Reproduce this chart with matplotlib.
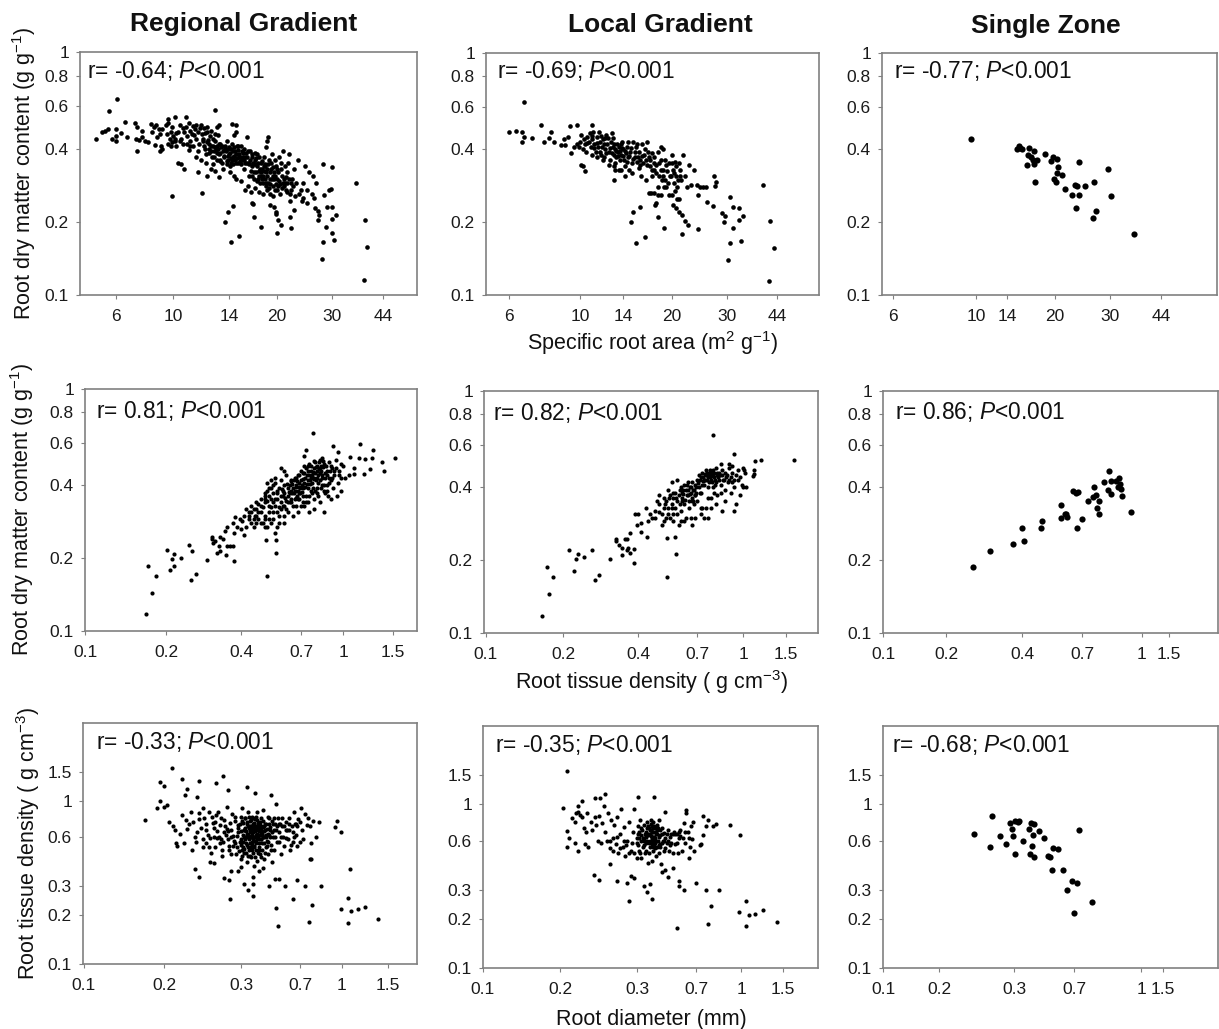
import numpy as np
import matplotlib
matplotlib.use("Agg")
import matplotlib.pyplot as plt
from matplotlib.ticker import NullLocator

plt.rcParams['font.family'] = ['Liberation Sans', 'DejaVu Sans']
plt.rcParams['mathtext.fontset'] = 'custom'
plt.rcParams['mathtext.rm'] = 'Liberation Sans'
plt.rcParams['mathtext.it'] = 'Liberation Sans:italic'
plt.rcParams['mathtext.default'] = 'regular'

# ---------- data: (x, y) ----------
srl_rdmc_regional = [
(5.03,.437),(6.05,.64),(5.65,.57),(6.5,.515),(5.3,.47),(5.45,.475),(5.6,.48),(6,.48),(6,.45),(5.8,.44),(6,.43),(6.3,.465),(6.6,.445),
(7.1,.51),(7.25,.49),(7.6,.475),(7.15,.44),(7.4,.435),(7.6,.445),(7.25,.39),(7.8,.43),(8,.425),(8.5,.415),(8.2,.505),(8.6,.5),(8.8,.48),(9.1,.48),(8.7,.445),(9,.41),(8.9,.39),(9.1,.4),(8.4,.49),(8.3,.47),(8.9,.46),
(9.55,.53),(10.1,.54),(10.8,.54),(12.9,.575),(13.2,.5),(13,.49),(14.3,.505),(14.8,.5),(14.7,.47),(14.5,.455),(16.0,.445),(18.7,.445),(18.5,.43),(18.4,.405),
(9.4,.5),(9.6,.51),(9.8,.47),(9.5,.46),(9.7,.44),(9.9,.49),(10,.45),(10.1,.43),(9.6,.42),(9.8,.41),(10.2,.41),(10.3,.47),(10.4,.5),(10.5,.44),(10.6,.42),(10.7,.47),(10.8,.49),(10.9,.45),(11,.51),(11.1,.43),(11.2,.46),(11.3,.41),(11.4,.48),(11.5,.44),(11.6,.39),(11.7,.42),(11.8,.5),(11.9,.46),(12,.44),(12.1,.4),(12.2,.38),(12.3,.47),(12.4,.42),(12.5,.45),(12.6,.39),(12.7,.41),(12.8,.37),(12.9,.43),(13,.36),(13.1,.4),(13.2,.38),(13.3,.42),(13.4,.35),(13.5,.39),(13.6,.37),(13.7,.41),(13.8,.43),(13.9,.36),(14,.38),(14.1,.34),(14.2,.4),(14.3,.42),(14.4,.37),(14.6,.39),(14.8,.35),(15,.41),(15.2,.37),(15.4,.39),(15.6,.33),(15.8,.35),(16,.37),(16.2,.31),(16.4,.39),(16.6,.34),(16.8,.32),(17,.36),(17.2,.38),(17.4,.3),(17.6,.33),(17.8,.35),(18,.31),(18.2,.37),(18.4,.29),(18.6,.33),(18.8,.36),(19,.3),(19.2,.38),(19.4,.28),(19.6,.32),(19.8,.34),(20,.3),(20.3,.37),(20.6,.33),(20.9,.39),(21.2,.29),(21.5,.32),(21.8,.38),(22.1,.27),(22.4,.3),(22.7,.33),(23,.29),(23.4,.36),(23.8,.27),(24.2,.29),(24.6,.34),(25,.27),(25.4,.32),(25.8,.26),(26,.31),(26.3,.25),(26.6,.29),
(10.3,.35),(10.5,.345),(10.7,.33),(11.6,.32),(12.3,.31),(12.6,.33),(12.9,.325),(13.2,.305),(13.5,.33),(14.1,.32),(14.5,.31),(14.8,.3),(15.3,.295),(15.8,.27),(16.1,.28),(16.5,.265),(17,.275),(17.5,.265),(18,.26),(18.6,.27),(19,.26),(19.4,.255),(20,.27),(20.5,.26),(21,.28),(21.5,.265),(22,.26),(22.8,.255),(23.5,.26),(24.3,.25),
(11,.395),(11.5,.37),(11.8,.36),(12.2,.35),(12.7,.345),(13.3,.355),(13.8,.345),(14.4,.345),(15,.35),(15.6,.36),(16.3,.35),(16.9,.345),(17.3,.34),(17.9,.33),(18.4,.32),(19.1,.33),(19.7,.31),(20.2,.32),(20.8,.31),
(12.4,.4),(12.8,.39),(13,.41),(13.3,.385),(13.6,.395),(13.9,.375),(14.2,.365),(14.5,.375),(14.9,.365),(15.1,.38),(15.5,.37),(16.6,.37),(17.1,.345),(17.5,.325),(17.7,.31),(18.1,.34),(18.3,.345),
(9.95,.256),(11.9,.262),(13.7,.2),(13.9,.22),(14.4,.232),(14.2,.166),(15.1,.175),(16.6,.238),(16.7,.237),(16.8,.21),(17.7,.19),(19,.235),(19.6,.23),(19.8,.22),(19.9,.215),(20.2,.204),(20.6,.195),(20,.18),(22.2,.188),(22.7,.224),(22,.21),(22,.243),(24.9,.24),(24,.243),(26.4,.228),(27,.222),(27.3,.213),(27,.203),(28.6,.19),(28.9,.23),(30,.23),(31,.213),(30,.205),(30,.18),(30.5,.168),(28.1,.165),(27.9,.14),(28,.345),(30,.335),(28.2,.258),(29.3,.27),(29.7,.273),(36,.288),(38.3,.204),(39,.158),(38.2,.115),
]
srl_rdmc_regional_dense = [
(10.2,.465),(10.6,.485),(11.05,.475),(11.35,.455),(11.65,.47),(11.95,.43),(12.15,.465),(12.35,.435),(12.55,.41),(12.75,.44),(12.95,.395),(13.15,.42),(13.35,.405),(13.55,.375),(13.75,.39),(13.95,.4),(14.15,.385),(14.35,.36),(14.55,.405),(14.75,.38),(14.95,.395),(15.15,.355),(15.35,.41),(15.55,.385),(15.75,.37),(16.15,.39),(16.35,.36),(16.55,.38),(16.75,.35),(16.95,.385),(17.15,.365),(17.35,.35),(17.55,.37),(17.75,.32),(17.95,.355),(18.15,.325),(18.35,.34),(18.55,.31),(18.75,.345),(18.95,.32),(19.15,.35),(19.35,.335),(19.55,.3),(19.75,.36),(19.95,.33),(20.25,.295),(20.55,.35),(20.85,.29),(21.15,.34),(21.45,.305),(21.75,.35),(12.05,.41),(12.25,.425),(12.45,.385),(12.65,.37),(12.85,.405),(13.05,.385),(13.25,.36),(13.45,.41),(13.65,.4),(13.85,.355),(14.05,.405),(14.25,.35),(14.45,.39),(14.65,.36),(14.85,.41),(15.05,.37),(15.25,.345),(15.45,.36),(15.65,.4),(15.85,.385),(16.05,.35),(16.25,.345),(16.45,.325),(16.65,.31),(16.85,.3),(17.05,.32),(17.25,.295),(17.45,.31),(17.65,.29),(17.85,.3),(18.05,.29),(18.25,.3),(18.45,.28),(18.65,.29),(18.85,.275),(19.05,.285),(19.25,.3),(19.45,.31),(19.65,.27),(19.85,.285),(20.1,.28),(20.4,.285),(20.7,.275),(21,.3),(21.3,.27),(21.6,.29),(21.9,.3),(22.2,.29),(22.5,.28),(11.1,.41),(10.9,.42),(10.4,.43),(10.15,.44),(9.9,.425),(11.25,.495),(11.45,.5),(11.75,.485),(12.05,.485),(12.3,.49),(12.6,.475),(12.85,.46),(13.1,.455),
]
srl_rdmc_local = [
(6.66,.63),(6,.47),(6.3,.475),(6.6,.47),(6.7,.45),(6.6,.43),(7.1,.445),(7.55,.505),(7.7,.43),(8,.445),(8.1,.47),(8.3,.43),(8.7,.415),(8.9,.44),(9,.415),(9.2,.45),(9.3,.5),(9.8,.505),(9.4,.385),(9.6,.41),(11,.505),
(9.8,.42),(9.9,.41),(10,.43),(10.1,.46),(10.2,.4),(10.3,.44),(10.4,.42),(10.5,.39),(10.6,.45),(10.7,.43),(10.8,.465),(10.9,.41),(11,.44),(11.1,.47),(11.2,.42),(11.3,.39),(11.4,.45),(11.5,.41),(11.6,.47),(11.7,.43),(11.8,.38),(11.9,.41),(12,.44),(12.1,.37),(12.2,.4),(12.3,.46),(12.4,.42),(12.5,.39),(12.6,.36),(12.7,.43),(12.8,.465),(12.9,.41),(13,.38),(13.1,.4),(13.2,.35),(13.3,.37),(13.4,.42),(13.5,.39),(13.6,.41),(13.7,.36),(13.8,.38),(13.9,.43),(14,.4),(14.1,.36),(14.2,.34),(14.3,.385),(14.4,.41),(14.5,.37),(14.7,.39),(14.9,.35),(15.1,.43),(15.3,.37),(15.5,.42),(15.7,.39),(15.9,.36),(16.1,.42),(16.3,.38),(16.5,.36),(16.7,.43),(16.9,.37),(17.1,.34),(17.3,.385),(17.5,.35),(17.8,.32),(18,.39),(18.2,.35),(18.4,.41),(18.5,.33),(18.7,.4),(18.8,.31),(19,.3),(19.2,.345),(19.4,.29),(19.6,.35),(19.8,.31),(20,.38),(20.1,.33),(20.3,.29),(20.4,.355),(20.6,.31),(20.8,.28),(21,.35),(21.2,.33),(21.4,.3),(21.7,.38),(22,.31),(22.3,.28),(22.7,.345),(23,.285),(23.5,.33),(24,.285),(24.6,.28),(25.2,.28),(25.7,.28),(18.1,.28),(19.1,.28),(20,.26),(20.4,.27),(20.7,.25),(21.1,.25),(19.5,.26),(18.6,.3),(18.9,.28),(17.3,.31),(17.6,.33),(16.6,.3),(16,.31),(15,.32),(15.7,.335),(14.6,.33),(14.2,.31),(13.8,.33),(13.2,.33),(13.6,.33),(13,.34),(12.5,.345),(12,.36),(11.4,.37),(11,.38),
(10.1,.345),(10.2,.34),(10.4,.325),(13,.3),(14.8,.2),(15.1,.22),(15.8,.23),(15.4,.164),(16.4,.173),(16.9,.265),(17.2,.265),(17.6,.265),(18.1,.26),(18.5,.26),(17.8,.24),(17.7,.235),(18,.21),(18.9,.19),(20.2,.235),(20.6,.228),(21.1,.22),(21.5,.215),(22,.203),(22.5,.195),(21.6,.178),(24.2,.187),(25.8,.243),(27,.234),(24.2,.26),(27.3,.31),(27.6,.293),(27.4,.283),(29,.218),(29.6,.213),(29.3,.2),(30.7,.255),(31.5,.23),(33,.228),(34,.213),(32.9,.205),(31.5,.189),(33.5,.167),(30.6,.164),(30.3,.139),(39.5,.286),(41.8,.202),(43,.157),(41.5,.114),
]
srl_rdmc_local_dense = [
(10.55,.425),(10.95,.455),(11.15,.405),(11.45,.425),(11.75,.455),(12.05,.42),(12.25,.385),(12.45,.445),(12.65,.405),(12.85,.385),(13.05,.42),(13.25,.395),(13.45,.375),(13.65,.395),(13.85,.405),(14.05,.375),(14.25,.395),(14.45,.355),(14.65,.375),(14.85,.405),(15.05,.365),(15.25,.39),(15.45,.355),(15.65,.37),(15.85,.345),(16.05,.375),(16.25,.35),(16.45,.4),(16.65,.345),(16.85,.39),(17.05,.36),(17.25,.33),(17.55,.37),(17.85,.345),(18.15,.31),(18.45,.36),(18.75,.33),(19.05,.36),(19.35,.325),(19.65,.31),(19.95,.35),(20.25,.32),(20.55,.34),(20.85,.3),(21.15,.31),(11.65,.39),(12.15,.445),(12.95,.445),(13.75,.42),(14.55,.43),(15.35,.41),
]
srl_rdmc_zone = [
(9.7,.443),(15.05,.4),(15.3,.414),(15.6,.4),(15.4,.405),(16.5,.405),(17.1,.395),(16.35,.38),(16.7,.37),(17,.36),(17.5,.36),(16.3,.345),(17.1,.348),(17.3,.294),(18.6,.382),(19.4,.357),(19.7,.372),(20.3,.364),(20.5,.337),(20.3,.32),(21,.314),(19.8,.302),(20.1,.294),(23.8,.354),(21.6,.274),(23.2,.286),(23.6,.283),(25,.281),(26.6,.293),(29.5,.333),(30.2,.256),(22.7,.26),(23.9,.258),(23.4,.228),(27,.222),(26.4,.208),(36,.178),
]
rtd_rdmc_regional = [
(.168,.117),(.172,.185),(.183,.169),(.177,.144),(.202,.217),(.211,.198),(.216,.208),(.208,.178),(.215,.185),(.229,.2),(.248,.226),(.254,.215),(.252,.163),(.263,.172),(.293,.197),(.305,.244),(.31,.232),(.32,.21),(.33,.214),(.348,.207),(.375,.194),(.373,.225),(.51,.169),(.556,.21),(.548,.255),(.556,.238),(.505,.237),
(.776,.658),(.92,.584),(1.15,.59),(1.28,.56),(1.53,.52),(1.37,.498),(1.4,.46),(1.24,.465),(1.19,.445),(1.2,.515),(1.27,.52),(1.14,.52),(1.06,.525),(1.09,.47),(1.05,.44),(1.09,.445),(.955,.55),(.73,.56),(.72,.53),
(.305,.24),(.315,.235),(.33,.245),(.34,.24),(.325,.225),(.35,.225),(.36,.225),(.345,.26),(.35,.27),(.37,.28),(.375,.255),(.385,.27),(.4,.265),(.405,.285),(.38,.295),(.41,.25),(.42,.27),(.43,.29),(.44,.31),(.45,.27),(.455,.3),(.46,.32),(.47,.29),(.48,.33),(.49,.28),(.5,.3),(.5,.34),(.51,.27),(.52,.31),(.53,.35),(.54,.29),(.55,.33),(.56,.37),(.57,.3),(.58,.34),(.59,.38),(.6,.28),(.61,.32),(.62,.36),(.63,.4),(.64,.34),(.65,.3),(.66,.38),(.67,.43),(.68,.35),(.69,.41),(.7,.33),(.71,.39),(.72,.45),(.73,.36),(.74,.42),(.75,.49),(.76,.38),(.77,.44),(.78,.47),(.79,.5),(.8,.37),(.81,.41),(.82,.45),(.83,.48),(.84,.52),(.85,.4),(.86,.43),(.87,.46),(.88,.36),(.89,.5),(.9,.42),(.91,.47),(.92,.39),(.93,.44),(.94,.51),(.96,.41),(.97,.46),(.98,.38),(1,.48),(1.02,.43),
(.5,.35),(.51,.38),(.52,.36),(.53,.39),(.54,.37),(.55,.41),(.56,.35),(.57,.39),(.58,.42),(.59,.36),(.6,.4),(.61,.44),(.62,.34),(.63,.37),(.64,.42),(.65,.39),(.66,.35),(.67,.4),(.68,.38),(.69,.44),(.7,.42),(.71,.36),(.72,.41),(.73,.47),(.74,.39),(.75,.44),(.76,.46),(.77,.41),(.78,.43),(.79,.45),(.8,.48),(.81,.44),(.82,.42),(.83,.46),(.84,.44),(.85,.49),(.72,.48),(.7,.46),(.68,.44),(.66,.43),(.64,.38),(.62,.39),(.6,.37),(.58,.36),(.56,.38),(.54,.34),(.52,.33),(.5,.37),(.48,.35),(.46,.34),(.44,.33),(.47,.31),(.45,.29),(.43,.3),(.42,.32),(.55,.43),(.53,.42),(.51,.41),(.6,.46),(.58,.47),(.72,.33),(.75,.31),(.78,.32),(.82,.34),(.86,.37),(.74,.34),(.9,.35),(.95,.36),(.98,.43),(.8,.39),(.87,.4),(.78,.35),(.85,.31),(.65,.33),(.68,.31),(.62,.31),(.6,.3),(.57,.28),(.56,.27),(.53,.28),(.5,.29),
]
rtd_rdmc_regional_dense = [
(.585,.385),(.605,.355),(.615,.405),(.625,.375),(.635,.35),(.645,.405),(.655,.37),(.665,.355),(.675,.415),(.685,.395),(.695,.37),(.705,.4),(.715,.45),(.725,.43),(.735,.405),(.745,.46),(.755,.42),(.765,.48),(.775,.455),(.785,.425),(.795,.475),(.805,.43),(.815,.5),(.825,.47),(.835,.43),(.845,.475),(.855,.45),(.635,.415),(.645,.37),(.655,.42),(.665,.395),(.675,.36),(.685,.37),(.695,.39),(.705,.375),(.715,.425),(.725,.395),(.735,.44),(.745,.48),(.755,.405),(.765,.43),(.775,.39),(.785,.505),(.795,.42),(.805,.46),(.815,.465),(.825,.51),(.835,.4),(.845,.505),(.865,.48),(.875,.44),(.885,.43),(.895,.46),(.905,.48),(.925,.46),(.945,.47),(.965,.44),(.985,.49),(.61,.345),(.59,.33),(.57,.325),(.55,.35),(.53,.325),(.51,.345),(.49,.325),(.47,.335),(.45,.32),(.43,.31),(.41,.3),(.395,.29),(.54,.4),(.52,.39),(.5,.36),(.48,.31),(.46,.3),(.44,.28),(.63,.34),(.6,.33),(.58,.32),(.56,.31),(.54,.31),(.52,.29),(.5,.27),(.48,.28),(.46,.28),(.67,.33),(.69,.35),(.71,.34),(.73,.34),(.75,.36),(.77,.37),(.79,.38),(.81,.36),(.83,.39),(.85,.38),(.87,.38),(.89,.41),(.91,.43),
]
rtd_rdmc_local = [
(.165,.117),(.173,.187),(.183,.17),(.176,.145),(.211,.22),(.222,.18),(.225,.203),(.23,.213),(.243,.207),(.262,.22),(.268,.165),(.28,.173),(.308,.203),(.325,.24),(.327,.245),(.335,.23),(.345,.225),(.345,.21),(.355,.245),(.36,.245),(.36,.22),(.365,.225),(.37,.215),(.385,.194),(.385,.222),(.37,.26),(.39,.31),(.4,.31),(.395,.28),(.41,.285),(.41,.262),(.435,.25),
(.525,.171),(.575,.212),(.57,.25),(.525,.246),(.79,.655),(.935,.55),(1.01,.47),(1.11,.47),(1.11,.455),(1.1,.445),(1.12,.515),(1.18,.52),(1.61,.52),(.92,.49),(.84,.5),
(.43,.33),(.44,.29),(.45,.31),(.455,.3),(.47,.3),(.47,.32),(.48,.35),(.49,.34),(.49,.315),(.5,.28),(.51,.33),(.51,.36),(.52,.3),(.52,.35),(.53,.39),(.53,.33),(.54,.37),(.54,.3),(.55,.34),(.55,.42),(.56,.36),(.56,.31),(.57,.38),(.57,.33),(.58,.35),(.58,.43),(.59,.37),(.59,.28),(.6,.4),(.6,.32),(.61,.36),(.61,.38),(.62,.34),(.62,.41),(.63,.39),(.63,.3),(.64,.37),(.64,.42),(.65,.35),(.65,.33),(.66,.4),(.66,.38),(.67,.36),(.67,.42),(.68,.34),(.68,.39),(.69,.37),(.69,.41),(.7,.43),(.7,.35),(.71,.45),(.71,.4),(.72,.38),(.72,.44),(.73,.46),(.73,.33),(.74,.43),(.74,.41),(.75,.45),(.75,.47),(.76,.44),(.76,.36),(.77,.46),(.77,.42),(.78,.43),(.78,.45),(.79,.47),(.79,.4),(.8,.44),(.8,.46),(.81,.42),(.81,.48),(.82,.45),(.82,.37),(.83,.43),(.83,.46),(.84,.41),(.85,.45),(.85,.47),(.86,.43),(.87,.39),(.87,.46),(.88,.45),(.89,.42),(.9,.48),(.91,.44),(.92,.42),(.93,.4),(.95,.45),(.96,.47),(.98,.44),(1,.48),(1.02,.46),(.9,.5),(.96,.43),(.99,.41),(1.03,.4),(.93,.32),(.85,.32),(.78,.36),(.72,.33),(.74,.3),(.76,.3),(.69,.3),(.66,.3),(.62,.29),(.6,.29),(.58,.31),(.56,.29),(.55,.33),(.53,.31),(.51,.29),(.5,.31),(.49,.37),(.67,.28),(.72,.31),(.75,.33),(.78,.33),(.81,.34),(.87,.35),(.95,.34),(.98,.37),(1.0,.4),(.91,.38),(.84,.38),(.8,.38),
]
rtd_rdmc_local_dense = [
(.595,.39),(.605,.35),(.615,.375),(.625,.355),(.635,.37),(.645,.39),(.655,.375),(.665,.35),(.675,.39),(.685,.37),(.695,.38),(.705,.415),(.715,.43),(.725,.41),(.735,.44),(.745,.455),(.755,.43),(.765,.45),(.775,.44),(.785,.46),(.795,.445),(.805,.43),(.815,.46),(.825,.44),(.835,.45),(.775,.47),(.755,.46),(.735,.425),(.715,.38),(.695,.4),(.675,.35),(.655,.4),(.635,.41),(.615,.39),(.595,.34),(.575,.36),(.555,.38),(.535,.36),(.515,.34),(.855,.43),(.875,.44),(.895,.43),(.915,.46),(.935,.43),(.745,.43),(.765,.4),(.785,.42),(.805,.41),
]
rtd_rdmc_zone = [
(.257,.187),(.3,.218),(.367,.234),(.4,.272),(.407,.24),(.478,.271),(.48,.289),(.576,.299),(.576,.337),(.598,.309),(.606,.301),(.602,.31),(.644,.388),(.66,.379),(.675,.383),(.67,.271),(.7,.296),(.725,.351),(.75,.4),(.748,.364),(.76,.372),(.775,.35),(.765,.33),(.775,.31),(.8,.42),(.82,.468),(.815,.391),(.83,.377),(.83,.425),(.855,.425),(.87,.437),(.875,.413),(.865,.403),(.885,.393),(.89,.367),(.935,.317),
]
diam_rtd_regional = [
(.17,.765),(.193,1.31),(.2,1.23),(.188,.91),(.194,1),(.203,.94),(.2,.92),(.209,1.6),(.22,1.37),(.226,1.18),(.223,1.08),(.24,1.33),(.238,1.05),(.273,1.42),(.263,1.28),(.28,1.17),(.327,1.21),(.367,1.11),(.46,1.08),(.495,.95),(.706,.91),(.96,.75),(.94,.69),(.995,.64),(1.07,.38),(1.05,.255),(.995,.218),(1.08,.21),(1.15,.216),(1.22,.225),(1.37,.19),(1.05,.178),(.51,.172),(.495,.22),(.755,.18),(.775,.23),(.637,.25),(.283,.25),(.354,.262),(.33,.285),(.315,.31),(.84,.3),(.73,.3),(.67,.325),(.565,.3),(.52,.33),(.45,.3),(.49,.33),(.76,.44),(.77,.44),(.236,.38),(.24,.34),(.255,.42),(.26,.415),(.275,.335),(.282,.325),(.285,.37),(.295,.37),(.3,.395),(.354,.34),(.355,.31),(.39,.37),(.41,.385),
(.205,.74),(.21,.7),(.212,.66),(.214,.53),(.213,.55),(.218,.63),(.22,.82),(.225,.76),(.228,.72),(.23,.86),(.232,.5),(.235,.6),(.237,.56),(.24,.84),(.243,.68),(.245,.9),(.247,.79),(.25,.72),(.252,.62),(.254,.52),(.256,.48),(.258,.8),(.26,.68),(.262,.74),(.264,.59),(.266,.85),(.268,.55),(.27,.78),(.272,.46),(.274,.64),(.276,.7),(.278,.92),(.28,.58),(.282,.5),(.284,.66),(.286,.83),(.288,.53),(.29,.75),(.292,.47),(.294,.61),(.296,.71),(.298,.56),(.3,.8),(.3,.44),(.302,.65),(.305,.9),(.308,.52),(.31,.73),(.312,.6),(.315,.48),(.318,.68),(.32,.78),(.322,.55),(.325,.42),(.328,.63),(.33,.86),(.332,.7),(.335,.5),(.338,.58),(.34,.75),(.342,.66),(.345,.45),(.348,.61),(.35,.8),(.352,.54),(.355,.72),(.358,.64),(.36,.4),(.362,.69),(.365,.57),(.368,.77),(.37,.5),(.372,.62),(.375,.85),(.378,.67),(.38,.43),(.382,.73),(.385,.6),(.388,.52),(.39,.65),(.392,.71),(.395,.47),(.398,.58),(.4,.78),(.403,.63),(.406,.55),(.41,.69),(.413,.88),(.416,.44),(.42,.6),(.424,.66),(.428,.52),(.432,.72),(.436,.57),(.44,.8),(.445,.47),(.45,.62),(.455,.69),(.46,.54),(.465,.75),(.47,.42),(.475,.6),(.48,.66),(.485,.5),(.49,.72),(.5,.56),(.51,.79),(.52,.64),(.53,.47),(.54,.7),(.55,.6),(.56,.53),(.57,.74),(.58,.66),(.59,.58),(.6,.79),(.61,.5),(.62,.7),(.63,.56),(.64,.85),(.65,.72),(.66,.62),(.67,.53),(.68,.77),(.7,.74),(.71,.66),(.72,.58),(.73,.83),(.74,.71),(.75,.78),(.76,.7),(.77,.55),(.78,.75),(.8,.6),(.82,.74),
(.33,.62),(.34,.7),(.345,.6),(.35,.67),(.355,.58),(.36,.73),(.365,.65),(.37,.7),(.375,.6),(.38,.76),(.385,.68),(.39,.62),(.395,.74),(.4,.58),(.31,.62),(.315,.66),(.32,.58),(.325,.72),(.33,.52),(.335,.68),(.34,.55),(.345,.76),(.35,.5),(.36,.53),(.37,.55),(.38,.58),(.39,.55),(.4,.66),(.41,.6),(.42,.7),(.43,.62),(.44,.56),(.45,.72),(.285,.6),(.29,.55),(.295,.68),(.3,.58),(.305,.5),(.27,.58),(.28,.65),(.26,.6),(.25,.55),(.245,.58),(.48,.78),(.52,.72),(.54,.78),(.57,.66),(.6,.66),(.63,.64),(.67,.7),
]
diam_rtd_regional_dense = [
(.222,.55),(.226,.67),(.233,.74),(.238,.64),(.241,.77),(.246,.52),(.249,.66),(.253,.85),(.255,.59),(.259,.73),(.261,.52),(.263,.82),(.265,.65),(.267,.6),(.269,.71),(.271,.5),(.273,.56),(.275,.76),(.277,.62),(.279,.67),(.281,.53),(.283,.73),(.285,.47),(.287,.61),(.289,.57),(.291,.8),(.293,.52),(.295,.64),(.297,.49),(.299,.72),(.301,.54),(.303,.46),(.306,.75),(.309,.56),(.311,.66),(.313,.51),(.316,.78),(.319,.6),(.321,.48),(.323,.65),(.326,.54),(.329,.74),(.331,.46),(.333,.6),(.336,.8),(.339,.64),(.341,.46),(.344,.7),(.347,.52),(.349,.56),(.351,.62),(.354,.78),(.357,.48),(.359,.68),(.361,.6),(.364,.52),(.367,.68),(.369,.45),(.371,.8),(.374,.56),(.377,.63),(.379,.7),(.381,.48),(.384,.66),(.387,.73),(.389,.58),(.391,.5),(.394,.69),(.397,.64),(.399,.45),(.402,.7),(.405,.62),(.408,.5),(.412,.75),(.415,.65),(.418,.55),(.422,.48),(.426,.72),(.43,.6),(.434,.67),(.438,.53),(.442,.63),(.448,.78),(.452,.6),(.458,.66),(.462,.5),(.468,.64),(.478,.72),(.488,.6),(.495,.66),(.505,.7),(.515,.56),(.525,.72),(.535,.6),(.555,.7),(.575,.59),(.595,.72),(.615,.54),(.645,.6),(.665,.72),(.695,.56),
]
diam_rtd_local = [
(.207,1.6),(.203,.95),(.207,.69),(.21,.62),(.207,.55),(.253,1.15),(.24,1.09),(.247,1.09),(.305,1.1),(.384,1.1),(.224,1.05),(.22,.98),(.92,.745),(.99,.65),(.822,.755),(.8,.74),(.77,.8),(.74,.85),(.61,.92),(1.05,.255),(.985,.22),(1.08,.21),(1.15,.215),(1.24,.225),(1.42,.19),(1.05,.18),(.53,.175),(.77,.185),(.79,.24),(.84,.3),(.755,.3),(.695,.33),(.59,.3),(.545,.34),(.545,.315),(.37,.263),(.345,.29),(.33,.315),(.36,.325),(.288,.258),(.284,.33),(.29,.365),(.27,.34),(.295,.355),(.239,.37),(.245,.345),(.26,.43),(.47,.36),(.43,.385),(.45,.395),(.5,.41),
(.213,.82),(.216,.78),(.218,.88),(.22,.9),(.222,.86),(.225,.83),(.227,.72),(.229,.68),(.231,.88),(.217,.58),(.22,.52),(.228,.57),(.232,.55),(.235,.78),(.237,.7),(.24,.84),(.242,.75),(.244,.6),(.246,.85),(.248,.58),(.25,.77),(.252,.98),(.254,.68),(.256,.6),(.258,.88),(.26,.54),(.262,.8),(.264,.62),(.266,.75),(.268,.57),(.27,.83),(.272,.5),(.274,.66),(.276,.93),(.278,.55),(.28,.73),(.282,.48),(.285,.6),(.288,.78),(.29,.52),(.293,.68),(.296,.93),(.3,.58),(.3,.47),(.303,.74),(.306,.66),(.31,.52),(.313,.8),(.316,.6),(.32,.47),(.323,.7),(.326,.55),(.33,.75),(.333,.62),(.336,.5),(.34,.68),(.343,.58),(.346,.78),(.35,.44),(.353,.65),(.356,.72),(.36,.55),(.363,.6),(.366,.8),(.37,.45),(.373,.68),(.376,.63),(.38,.52),(.384,.74),(.388,.58),(.392,.66),(.396,.48),(.4,.7),(.405,.6),(.41,.8),(.415,.55),(.42,.65),(.425,.43),(.43,.72),(.435,.6),(.44,.52),(.445,.67),(.45,.9),(.46,.58),(.47,.7),(.475,.52),(.48,.63),(.49,.66),(.5,.5),(.51,.68),(.52,.57),(.53,.66),(.54,.5),(.55,.62),(.56,.7),(.57,.52),(.58,.62),(.59,.77),(.6,.58),(.61,.88),(.62,.68),(.63,.47),(.64,.55),(.65,.74),(.66,.61),(.67,.78),(.68,.52),(.72,.56),(.73,.57),(.74,.65),(.755,.74),
(.35,.66),(.36,.7),(.365,.64),(.37,.74),(.375,.6),(.38,.68),(.385,.63),(.39,.72),(.395,.6),(.4,.66),(.41,.63),(.42,.7),(.34,.63),(.33,.6),(.32,.65),(.31,.62),(.355,.58),(.345,.72),(.365,.76),(.37,.57),(.38,.78),(.39,.54),(.4,.75),(.41,.56),(.43,.58),(.45,.62),(.47,.6),(.49,.58),(.52,.66),(.55,.68),
]
diam_rtd_local_dense = [
(.26,.6),(.265,.52),(.27,.63),(.275,.54),(.28,.6),(.283,.56),(.287,.5),(.292,.58),(.296,.5),(.3,.62),(.305,.56),(.31,.68),(.315,.5),(.32,.72),(.325,.62),(.33,.56),(.335,.66),(.34,.52),(.345,.6),(.35,.74),(.355,.5),(.36,.66),(.365,.7),(.37,.62),(.375,.55),(.38,.72),(.385,.56),(.39,.62),(.395,.68),(.4,.55),(.405,.72),(.41,.5),(.42,.57),(.43,.66),(.44,.6),(.45,.54),(.46,.66),(.48,.56),(.5,.66),(.53,.58),(.56,.64),(.6,.68),(.63,.62),
]
diam_rtd_zone = [
(.242,.655),(.264,.551),(.267,.845),(.278,.637),(.287,.575),(.293,.769),(.297,.705),(.299,.643),(.303,.499),(.303,.791),(.317,.775),(.32,.79),(.339,.6),(.369,.71),(.38,.77),(.398,.755),(.39,.65),(.388,.556),(.374,.499),(.396,.476),(.426,.686),(.46,.625),(.485,.486),(.5,.476),(.52,.54),(.56,.53),(.515,.396),(.603,.398),(.68,.34),(.71,.33),(.636,.3),(.72,.7),(.77,.254),(.7,.218),
]

srl_ticks = [6, 10, 14, 20, 30, 44]
rtd_ticks = [.1, .2, .4, .7, 1, 1.5]
rtd_tick_labels = ['0.1', '0.2', '0.4', '0.7', '1', '1.5']
diam_ticks = [.1, .2, .3, .7, 1, 1.5]
diam_tick_labels = ['0.1', '0.2', '0.3', '0.7', '1', '1.5']
rdmc_ticks = [.1, .2, .4, .6, .8, 1]
rdmc_tick_labels = ['0.1', '0.2', '0.4', '0.6', '0.8', '1']
rtd_y_ticks = [.1, .2, .3, .6, 1, 1.5]
rtd_y_tick_labels = ['0.1', '0.2', '0.3', '0.6', '1', '1.5']

W, H = 1219, 1029
fig = plt.figure(figsize=(W / 100, H / 100), dpi=100)
GRAY = '#808080'


def log_piecewise(vals, px, decade=258.0):
    lv = np.log10(np.array(vals, float))
    p = np.array(px, float)
    lv_ext = np.r_[lv[0] - 4, lv, lv[-1] + 4]
    p_ext = np.r_[p[0] - 4 * decade, p, p[-1] + 4 * decade]
    fwd = lambda x: np.interp(np.log10(np.maximum(x, 1e-9)), lv_ext, p_ext)
    inv = lambda q: 10 ** np.interp(q, p_ext, lv_ext)
    return fwd, inv


def panel(box, pts, xt, xl, xpx, yt, yl, ylim, size, note, note_xy):
    left, right, top, bottom = box
    ax = fig.add_axes([left / W, 1 - bottom / H, (right - left) / W, (bottom - top) / H])
    fwd, inv = log_piecewise(xt, xpx)
    ax.set_xscale('function', functions=(fwd, inv))
    ax.set_yscale('log')
    x, y = zip(*pts)
    ax.scatter(x, y, s=size, c='black', linewidths=0, zorder=3, clip_on=False)
    ax.set_xticks(xt, xl)
    ax.set_yticks(yt, yl)
    ax.xaxis.set_minor_locator(NullLocator())
    ax.yaxis.set_minor_locator(NullLocator())
    ax.set_xlim(float(inv(left)), float(inv(right)))
    ax.set_ylim(*ylim)
    for s in ax.spines.values():
        s.set_color(GRAY)
        s.set_linewidth(1.2)
    ax.tick_params(axis='both', length=3, width=0.8, color=GRAY, labelsize=12.5, labelcolor='#1a1a1a')
    ax.tick_params(axis='x', pad=7)
    ax.tick_params(axis='y', pad=5)
    fig.text(note_xy[0] / W, 1 - note_xy[1] / H, note, fontsize=16.4, va='center', ha='left', color='#111111')
    return ax


P = r'$\mathit{P}$<0.001'
srl_l = [str(t) for t in srl_ticks]
rows = [
    ((80, 417, 52, 295), srl_rdmc_regional + srl_rdmc_regional_dense, srl_ticks, srl_l, [116, 173, 229, 277, 332, 383], rdmc_ticks, rdmc_tick_labels, (.1, 1), 11, 'r= -0.64; ' + P, (87, 71)),
    ((486, 819, 53, 295), srl_rdmc_local + srl_rdmc_local_dense, srl_ticks, srl_l, [509, 580, 623, 672, 727, 777], rdmc_ticks, rdmc_tick_labels, (.1, 1), 11, 'r= -0.69; ' + P, (497, 71)),
    ((882, 1217, 53, 295), srl_rdmc_zone, srl_ticks, srl_l, [893, 976, 1007, 1055, 1110, 1161], rdmc_ticks, rdmc_tick_labels, (.1, 1), 20, 'r= -0.77; ' + P, (894, 71)),
    ((85, 417, 389, 631), rtd_rdmc_regional + rtd_rdmc_regional_dense, rtd_ticks, rtd_tick_labels, [85, 166, 241, 301, 343, 393], rdmc_ticks, rdmc_tick_labels, (.1, 1), 9, 'r= 0.81; ' + P, (96, 411)),
    ((484, 818, 391, 633), rtd_rdmc_local + rtd_rdmc_local_dense, rtd_ticks, rtd_tick_labels, [486, 563, 638, 697, 743, 786], rdmc_ticks, rdmc_tick_labels, (.1, 1), 9, 'r= 0.82; ' + P, (493, 413)),
    ((883, 1218, 391, 633), rtd_rdmc_zone, rtd_ticks, rtd_tick_labels, [883, 946, 1022, 1082, 1142, 1169], rdmc_ticks, rdmc_tick_labels, (.1, 1), 20, 'r= 0.86; ' + P, (895, 412)),
    ((83, 417, 723, 964), diam_rtd_regional + diam_rtd_regional_dense, diam_ticks, diam_tick_labels, [84, 164, 241, 300, 342, 388], rtd_y_ticks, rtd_y_tick_labels, (.1, 3), 9, 'r= -0.33; ' + P, (96, 742)),
    ((483, 818, 726, 968), diam_rtd_local + diam_rtd_local_dense, diam_ticks, diam_tick_labels, [483, 560, 637, 696, 741, 783], rtd_y_ticks, rtd_y_tick_labels, (.1, 3), 9, 'r= -0.35; ' + P, (495, 745)),
    ((883, 1218, 726, 968), diam_rtd_zone, diam_ticks, diam_tick_labels, [883, 939, 1014, 1074, 1141, 1163], rtd_y_ticks, rtd_y_tick_labels, (.1, 3), 20, 'r= -0.68; ' + P, (892, 745)),
]
for r in rows:
    panel(*r)


def t(x, y, s, **k):
    fig.text(x / W, 1 - y / H, s, va='center', ha='center', color='#111111', **k)


t(244, 24, 'Regional Gradient', fontsize=19, fontweight='bold')
t(660, 25, 'Local Gradient', fontsize=19, fontweight='bold')
t(1046, 26, 'Single Zone', fontsize=19, fontweight='bold')
t(653, 343, 'Specific root area (m$^{2}$ g$^{-1}$)', fontsize=15.5)
t(652, 682, 'Root tissue density ( g cm$^{-3}$)', fontsize=15.5)
t(651, 1019, 'Root diameter (mm)', fontsize=15.5)
t(24, 173, 'Root dry matter content (g g$^{-1}$)', fontsize=15.5, rotation=90)
t(22, 509, 'Root dry matter content (g g$^{-1}$)', fontsize=15.5, rotation=90)
t(28, 843, 'Root tissue density ( g cm$^{-3}$)', fontsize=15.5, rotation=90)

fig.savefig('out.png', dpi=100)
